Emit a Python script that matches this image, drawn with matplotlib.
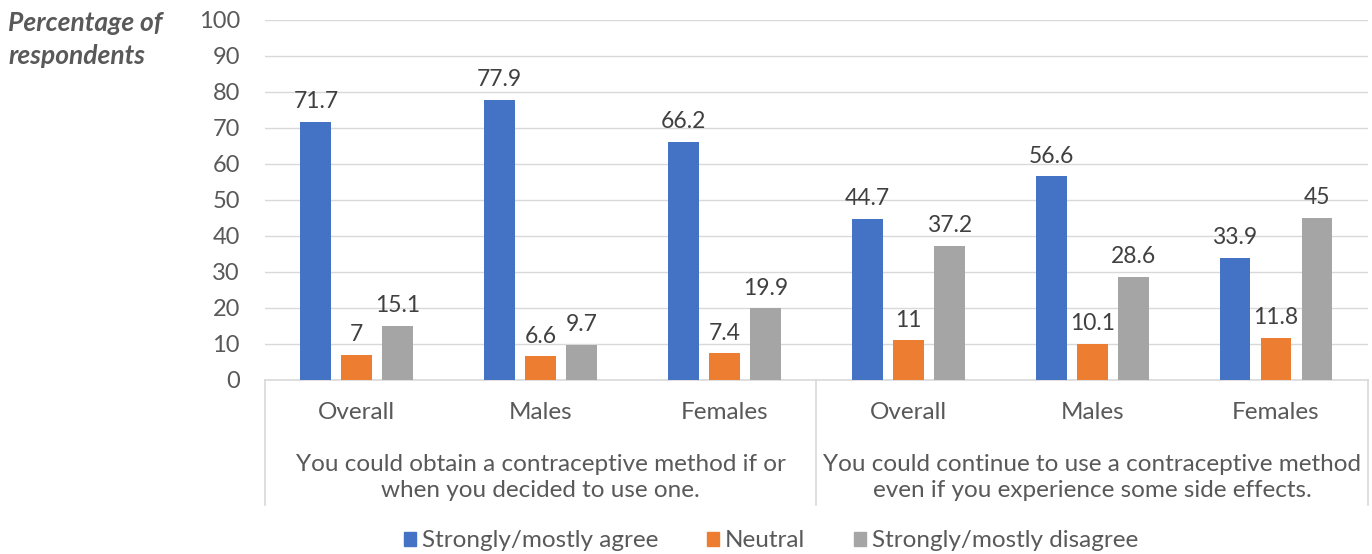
import numpy as np
import matplotlib.pyplot as plt
from matplotlib.patches import Patch
from matplotlib.transforms import blended_transform_factory

plt.rcParams['font.family'] = ['Lato', 'DejaVu Sans']

# Survey results, percent of respondents
subgroups = ['Overall', 'Males', 'Females', 'Overall', 'Males', 'Females']
statements = ['You could obtain a contraceptive method if or\nwhen you decided to use one.',
              'You could continue to use a contraceptive method\neven if you experience some side effects.']
agree = [71.7, 77.9, 66.2, 44.7, 56.6, 33.9]
neutral = [7, 6.6, 7.4, 11, 10.1, 11.8]
disagree = [15.1, 9.7, 19.9, 37.2, 28.6, 45]

series = ['Strongly/mostly agree', 'Neutral', 'Strongly/mostly disagree']
colors = ['#4472C4', '#ED7D31', '#A5A5A5']
text_col = '#595959'

fig = plt.figure(figsize=(13.72, 5.54), dpi=100)
ax = fig.add_axes([0.1931, 0.3141, 0.8039, 0.6498])

x = np.arange(len(subgroups))
width = 0.168
step = 0.223
for i, (vals, col) in enumerate(zip([agree, neutral, disagree], colors)):
    bars = ax.bar(x + (i - 1) * step, vals, width, color=col, zorder=3)
    for b, v in zip(bars, vals):
        ax.annotate(f'{v:g}', (b.get_x() + b.get_width() / 2, v),
                    xytext=(0, 7), textcoords='offset points',
                    ha='center', va='bottom', fontsize=16.5, color='#404040')

ax.set_xlim(-0.5, 5.5)
ax.set_ylim(0, 100)
ax.set_yticks(range(0, 101, 10))
ax.tick_params(axis='y', length=0, pad=18, labelsize=17, labelcolor=text_col)
ax.set_xticks([])
ax.grid(axis='y', color='#d9d9d9', linewidth=1, zorder=0)
for s in ['top', 'right', 'left']:
    ax.spines[s].set_visible(False)
ax.spines['bottom'].set_color('#d9d9d9')
ax.spines['bottom'].set_linewidth(1.2)

# two-level category axis below the plot
tr = blended_transform_factory(ax.transData, ax.transAxes)
for xs in [-0.5, 2.5, 5.5]:
    ax.plot([xs, xs], [0, -0.347], transform=tr, color='#d9d9d9',
            linewidth=1.2, clip_on=False)
for xi, name in zip(x, subgroups):
    ax.text(xi, -0.089, name, transform=tr, ha='center', va='center',
            fontsize=17.5, color=text_col)
for gi, st in enumerate(statements):
    ax.text(gi * 3 + 1, -0.271, st, transform=tr, ha='center', va='center',
            fontsize=17.5, color=text_col, linespacing=1.3)

fig.text(0.006, 0.929, 'Percentage of\nrespondents', ha='left', va='center',
         fontsize=19, fontweight='bold', style='italic', color=text_col,
         linespacing=1.45)

handles = [Patch(color=c, label=s) for s, c in zip(series, colors)]
fig.legend(handles=handles, loc='center', bbox_to_anchor=(0.562, 0.0235),
           ncol=3, frameon=False, fontsize=17.5, labelcolor=text_col,
           handlelength=0.5, handleheight=0.5, handletextpad=0.25,
           columnspacing=2.0, borderpad=0)

fig.savefig('out.png', dpi=100)
